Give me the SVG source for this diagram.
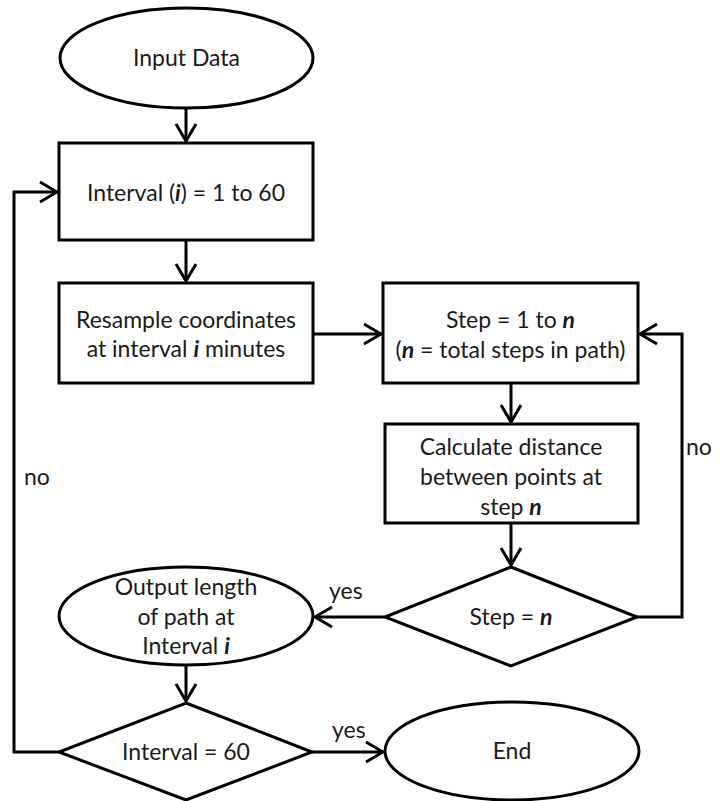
<svg xmlns="http://www.w3.org/2000/svg" width="719" height="801" viewBox="0 0 719 801">
  <defs>
    <style>
      .shape { fill: #ffffff; stroke: #000000; stroke-width: 3; }
      .link { fill: none; stroke: #000000; stroke-width: 3; }
      text { font-family: "Lato", "Open Sans", sans-serif; font-size: 23px; fill: #1a1a1a; text-anchor: middle; }
      .lbl { text-anchor: start; }
      .v { font-weight: bold; font-style: italic; }
    </style>
    <marker id="arrow" viewBox="-20 -12 22 24" markerWidth="22" markerHeight="24" refX="0" refY="0" orient="auto" markerUnits="userSpaceOnUse">
      <path d="M-17,-10 L0,0 L-17,10" fill="none" stroke="#000000" stroke-width="3"/>
    </marker>
  </defs>
  <rect width="719" height="801" fill="#ffffff"/>

  <g id="connectors">
    <line class="link" x1="186" y1="108" x2="186" y2="141" marker-end="url(#arrow)"/>
    <line class="link" x1="186" y1="240" x2="186" y2="281" marker-end="url(#arrow)"/>
    <line class="link" x1="313" y1="334" x2="381" y2="334" marker-end="url(#arrow)"/>
    <line class="link" x1="511" y1="383" x2="511" y2="422" marker-end="url(#arrow)"/>
    <line class="link" x1="511" y1="523" x2="511" y2="565" marker-end="url(#arrow)"/>
    <polyline class="link" points="637,617 682,617 682,334 640,334" marker-end="url(#arrow)"/>
    <line class="link" x1="385" y1="617" x2="315" y2="617" marker-end="url(#arrow)"/>
    <line class="link" x1="186" y1="665" x2="186" y2="701" marker-end="url(#arrow)"/>
    <line class="link" x1="312" y1="752" x2="383" y2="752" marker-end="url(#arrow)"/>
    <polyline class="link" points="59,752 14,752 14,192 57,192" marker-end="url(#arrow)"/>
    <text class="lbl" x="24" y="485">no</text>
    <text class="lbl" x="686" y="455">no</text>
    <text class="lbl" x="329" y="599">yes</text>
    <text class="lbl" x="332" y="738">yes</text>
  </g>

  <g id="input-data">
    <ellipse class="shape" cx="186.5" cy="58" rx="126.5" ry="50"/>
    <text x="186.5" y="66">Input Data</text>
  </g>

  <g id="interval-loop">
    <rect class="shape" x="59" y="143" width="254" height="97"/>
    <text x="186" y="201">Interval (<tspan class="v">i</tspan>) = 1 to 60</text>
  </g>

  <g id="resample">
    <rect class="shape" x="59" y="283" width="254" height="100"/>
    <text x="186" y="328">Resample coordinates</text>
    <text x="186" y="357">at interval <tspan class="v">i</tspan> minutes</text>
  </g>

  <g id="step-loop">
    <rect class="shape" x="383" y="283" width="255" height="100"/>
    <text x="510.5" y="328">Step = 1 to <tspan class="v">n</tspan></text>
    <text x="510.5" y="358">(<tspan class="v">n</tspan> = total steps in path)</text>
  </g>

  <g id="calc-distance">
    <rect class="shape" x="385" y="424" width="253" height="99"/>
    <text x="511" y="455">Calculate distance</text>
    <text x="511" y="485">between points at</text>
    <text x="511" y="515">step <tspan class="v">n</tspan></text>
  </g>

  <g id="step-check">
    <polygon class="shape" points="511,567 637,617 511,666 385,617"/>
    <text x="511" y="625">Step = <tspan class="v">n</tspan></text>
  </g>

  <g id="output-length">
    <ellipse class="shape" cx="186" cy="616" rx="127" ry="49"/>
    <text x="186" y="595">Output length</text>
    <text x="186" y="625">of path at</text>
    <text x="186" y="654">Interval <tspan class="v">i</tspan></text>
  </g>

  <g id="interval-check">
    <polygon class="shape" points="186,703 312,752 186,800 59,752"/>
    <text x="186" y="760">Interval = 60</text>
  </g>

  <g id="end">
    <ellipse class="shape" cx="512" cy="751" rx="127" ry="49"/>
    <text x="512" y="759">End</text>
  </g>
</svg>
